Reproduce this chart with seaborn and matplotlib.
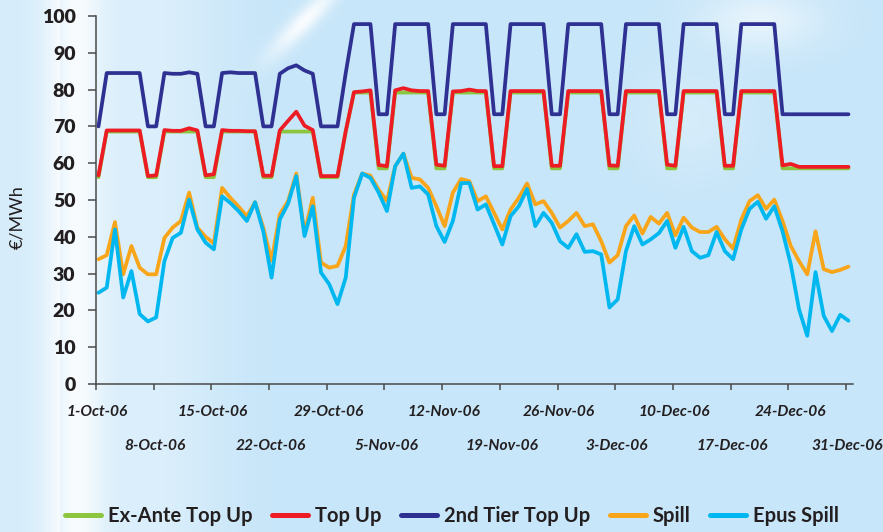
import numpy as np
import pandas as pd
import matplotlib
matplotlib.use("Agg")
import matplotlib.pyplot as plt
from matplotlib import font_manager
import seaborn as sns
from matplotlib.lines import Line2D

sns.set_theme(style="white")
plt.rcParams["font.family"] = ["Lato", "DejaVu Sans"]

# ---------------- data ----------------
tick_labels = ["1-Oct-06", "8-Oct-06", "15-Oct-06", "22-Oct-06", "29-Oct-06",
               "5-Nov-06", "12-Nov-06", "19-Nov-06", "26-Nov-06", "3-Dec-06",
               "10-Dec-06", "17-Dec-06", "24-Dec-06", "31-Dec-06"]
series_names = ["Ex-Ante Top Up", "Top Up", "2nd Tier Top Up", "Spill", "Epus Spill"]
series_colors = ["#8CC63F", "#ED1C24", "#2E3192", "#F9A51A", "#00B7EF"]

# daily values, 1 Oct 2006 .. 31 Dec 2006 (one row per week, starting Sunday)
ex_ante = [
    56.2, 68.6, 68.6, 68.6, 68.6, 68.6, 56.2,
    56.2, 68.6, 68.6, 68.6, 68.6, 68.6, 56.2,
    56.2, 68.6, 68.6, 68.6, 68.6, 68.6, 56.2,
    56.2, 68.6, 68.6, 68.6, 68.6, 68.6, 56.2,
    56.2, 56.2, 68.6, 79.2, 79.2, 79.2, 58.6,
    58.6, 79.2, 79.2, 79.2, 79.2, 79.2, 58.6,
    58.6, 79.2, 79.2, 79.2, 79.2, 79.2, 58.6,
    58.6, 79.2, 79.2, 79.2, 79.2, 79.2, 58.6,
    58.6, 79.2, 79.2, 79.2, 79.2, 79.2, 58.6,
    58.6, 79.2, 79.2, 79.2, 79.2, 79.2, 58.6,
    58.6, 79.2, 79.2, 79.2, 79.2, 79.2, 58.6,
    58.6, 79.2, 79.2, 79.2, 79.2, 79.2, 58.6,
    58.6, 58.6, 58.6, 58.6, 58.6, 58.6, 58.6,
    58.6,
]
top_up = [
    56.7, 68.9, 68.9, 68.9, 68.9, 68.9, 56.5,
    56.7, 69.0, 68.8, 68.8, 69.5, 68.9, 56.7,
    57.0, 69.0, 68.8, 68.8, 68.7, 68.7, 56.6,
    56.6, 68.9, 71.5, 74.0, 70.2, 69.0, 56.5,
    56.5, 56.5, 68.7, 79.3, 79.5, 79.8, 59.5,
    59.2, 79.8, 80.4, 79.8, 79.6, 79.6, 59.6,
    59.3, 79.5, 79.6, 80.0, 79.6, 79.6, 59.2,
    59.2, 79.6, 79.6, 79.6, 79.6, 79.6, 59.3,
    59.3, 79.6, 79.6, 79.6, 79.6, 79.6, 59.4,
    59.3, 79.6, 79.6, 79.6, 79.6, 79.6, 59.6,
    59.3, 79.6, 79.6, 79.6, 79.6, 79.6, 59.3,
    59.3, 79.6, 79.6, 79.6, 79.6, 79.6, 59.4,
    59.8, 59.0, 59.0, 59.0, 59.0, 59.0, 59.0,
    59.0,
]
second_tier = [
    70.0, 84.5, 84.5, 84.5, 84.5, 84.5, 70.0,
    70.0, 84.5, 84.3, 84.3, 84.7, 84.3, 70.0,
    70.0, 84.5, 84.7, 84.5, 84.5, 84.5, 70.0,
    70.0, 84.3, 85.8, 86.6, 85.2, 84.3, 70.0,
    70.0, 70.0, 84.5, 97.8, 97.8, 97.8, 73.3,
    73.3, 97.8, 97.8, 97.8, 97.8, 97.8, 73.3,
    73.3, 97.8, 97.8, 97.8, 97.8, 97.8, 73.3,
    73.3, 97.8, 97.8, 97.8, 97.8, 97.8, 73.3,
    73.3, 97.8, 97.8, 97.8, 97.8, 97.8, 73.3,
    73.3, 97.8, 97.8, 97.8, 97.8, 97.8, 73.3,
    73.3, 97.8, 97.8, 97.8, 97.8, 97.8, 73.3,
    73.3, 97.8, 97.8, 97.8, 97.8, 97.8, 73.3,
    73.3, 73.3, 73.3, 73.3, 73.3, 73.3, 73.3,
    73.3,
]
spill = [
    33.9, 35.0, 44.0, 29.8, 37.5, 31.6, 29.8,
    29.8, 39.7, 42.5, 44.3, 52.0, 42.5, 40.0,
    38.2, 53.3, 50.6, 48.2, 45.6, 49.4, 42.5,
    33.5, 46.1, 49.7, 57.2, 41.0, 50.6, 33.0,
    31.6, 32.1, 37.5, 51.5, 57.2, 56.6, 52.8,
    49.7, 59.2, 62.6, 56.0, 55.6, 53.3, 48.3,
    42.9, 52.0, 55.7, 55.1, 49.7, 51.0, 46.5,
    42.0, 47.4, 50.6, 54.5, 48.8, 49.7, 46.5,
    42.5, 44.3, 46.5, 42.9, 43.4, 38.8, 33.0,
    35.0, 42.9, 45.8, 40.9, 45.4, 43.6, 46.5,
    40.4, 45.2, 42.5, 41.3, 41.3, 42.7, 39.3,
    36.8, 44.7, 49.7, 51.3, 47.6, 50.1, 44.3,
    37.5, 33.4, 29.8, 41.5, 31.2, 30.4, 31.0,
    31.9,
]
epus_spill = [
    24.8, 26.2, 42.0, 23.5, 30.7, 19.0, 17.0,
    18.1, 33.4, 39.7, 41.1, 50.1, 42.0, 38.4,
    36.6, 51.0, 49.2, 47.0, 44.3, 49.4, 41.5,
    28.9, 44.7, 49.0, 56.5, 40.2, 48.3, 30.3,
    27.1, 21.7, 28.9, 50.6, 57.2, 56.0, 52.0,
    47.0, 59.2, 62.6, 53.3, 53.7, 51.5, 42.9,
    38.6, 44.3, 54.6, 54.6, 47.4, 48.8, 43.4,
    37.9, 45.6, 48.3, 53.0, 42.9, 46.5, 43.8,
    38.8, 37.0, 40.7, 35.9, 36.1, 35.2, 20.8,
    23.0, 36.1, 42.9, 37.9, 39.3, 41.0, 44.3,
    37.0, 42.7, 36.1, 34.3, 35.0, 41.3, 36.1,
    33.9, 42.0, 47.6, 49.5, 44.9, 48.3, 41.5,
    32.5, 20.3, 13.1, 30.4, 18.5, 14.4, 18.8,
    17.2,
]

values = [ex_ante, top_up, second_tier, spill, epus_spill]
n_days = len(spill)
day_index = np.arange(n_days)

frames = []
for name, vals in zip(series_names, values):
    frames.append(pd.DataFrame({"day": day_index + 0.3, "value": vals, "series": name}))
long_df = pd.concat(frames, ignore_index=True)

# narrow font for the date labels when available
installed = {f.name for f in font_manager.fontManager.ttflist}
if "Liberation Sans Narrow" in installed:
    date_family, date_size = ["Liberation Sans Narrow", "Lato", "DejaVu Sans"], 13
else:
    date_family, date_size = ["Lato", "DejaVu Sans"], 11.2

# ---------------- figure ----------------
W, H = 883, 532
fig = plt.figure(figsize=(W / 100, H / 100), dpi=100)

# background gradient
xx = np.arange(W)[None, :].astype(float)
yy = np.arange(H)[:, None].astype(float)
base = np.array([200, 230, 249], dtype=float) / 255.0
bg = np.ones((H, W, 3)) * base
light = np.exp(-((xx - 75) / 28.0) ** 2) * 0.75 + np.exp(-((xx - 150) / 70.0) ** 2) * 0.35
light = light + (xx < 60) * 0.25
streak = np.exp(-(((xx - 300) + (yy - 25) * 0.9) / 14.0) ** 2) * np.exp(-((yy - 20) / 35.0) ** 2) * 0.9
glow1 = np.exp(-(((xx - 760) / 60.0) ** 2 + ((yy - 20) / 30.0) ** 2)) * 0.55
glow2 = np.exp(-(((xx - 690) / 50.0) ** 2 + ((yy - 120) / 50.0) ** 2)) * 0.25
amt = np.clip(light + streak + glow1 + glow2, 0, 1)[..., None]
bg = bg * (1 - amt) + np.ones(3) * amt
bg_ax = fig.add_axes([0, 0, 1, 1])
bg_ax.imshow(bg, aspect="auto", extent=[0, 1, 0, 1], zorder=-10)
bg_ax.axis("off")

ax = fig.add_axes([96 / W, 1 - 384 / H, (853 - 96) / W, (384 - 16) / H])
ax.patch.set_alpha(0)

sns.lineplot(data=long_df, x="day", y="value", hue="series", hue_order=series_names,
             palette=series_colors, linewidth=2.7, legend=False, ax=ax,
             estimator=None, sort=False)

text_color = "#231F20"
ax.set_xlim(0, 91.85)
ax.set_ylim(0, 100)
ax.set_xlabel("")
ax.set_ylabel("")
for s in ["top", "right"]:
    ax.spines[s].set_visible(False)
for s in ["left", "bottom"]:
    ax.spines[s].set_color("#4a4a4a")
    ax.spines[s].set_linewidth(1.1)

ax.set_yticks(np.arange(0, 101, 10))
ax.set_yticklabels([str(v) for v in range(0, 101, 10)], fontsize=14,
                   fontweight="heavy", color=text_color)
ax.tick_params(axis="y", direction="out", length=5.8, width=1.1, color="#4a4a4a",
               pad=9, left=True)

tick_pos = np.arange(0, n_days, 7)
ax.set_xticks(tick_pos)
ax.set_xticklabels([])
ax.tick_params(axis="x", direction="out", length=4.5, width=1.1, color="#4a4a4a",
               bottom=True)

ax_h = 384 - 16
for i, (pos, lab) in enumerate(zip(tick_pos, tick_labels)):
    yoff = -28 if i % 2 == 0 else -62
    ax.text(pos + 0.2, yoff / ax_h, lab, transform=ax.get_xaxis_transform(),
            ha="center", va="center", fontsize=date_size, fontweight="bold",
            fontstyle="italic", family=date_family, color=text_color, clip_on=False)

fig.text(17 / W, 1 - 217 / H, "€/MWh", rotation=90, ha="center", va="center",
         fontsize=13, color=text_color)

handles = [Line2D([0], [0], color=c, linewidth=3.6) for c in series_colors]
leg = fig.legend(handles, series_names, loc="center", bbox_to_anchor=(452 / W, 1 - 516 / H),
                 ncol=5, frameon=False, handlelength=1.8, handletextpad=0.35,
                 columnspacing=0.95, prop={"weight": "bold", "size": 14.5})
for t in leg.get_texts():
    t.set_color(text_color)

fig.savefig("out.png", dpi=100)
